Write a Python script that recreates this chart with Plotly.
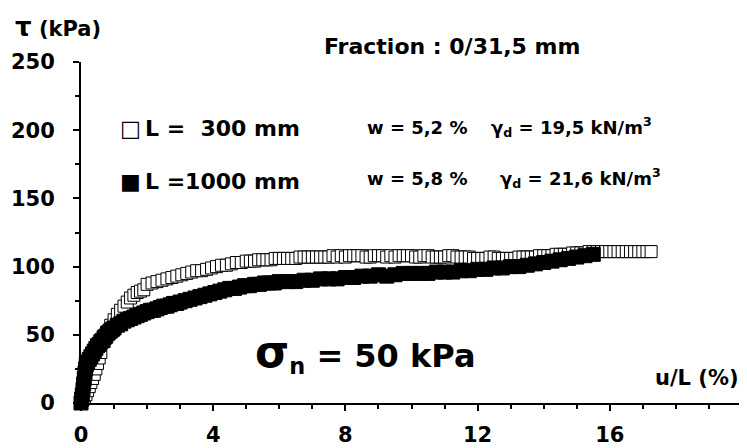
import plotly.graph_objects as go

# ---------------------------------------------------------------
# shear stress tau (kPa) vs relative displacement u/L (%)
# sigma_n = 50 kPa
# ---------------------------------------------------------------

# L = 300 mm (open squares)
x_300 = [0.00, 0.05, 0.10, 0.15, 0.20, 0.25, 0.30, 0.35, 0.40, 0.45,
         0.50, 0.55, 0.60, 0.70, 0.80, 0.90, 1.00, 1.10, 1.20, 1.30,
         1.40, 1.50, 1.60, 1.70, 1.80, 1.90, 2.00, 2.15, 2.30, 2.45,
         2.60, 2.75, 2.90, 3.05, 3.20, 3.35, 3.50, 3.65, 3.80, 3.95,
         4.10, 4.25, 4.40, 4.55, 4.70, 4.85,
         5.000, 5.125, 5.250, 5.375, 5.500, 5.625, 5.750, 5.875,
         6.000, 6.125, 6.250, 6.375, 6.500, 6.625, 6.750, 6.875,
         7.000, 7.125, 7.250, 7.375, 7.500, 7.625, 7.750, 7.875,
         8.000, 8.125, 8.250, 8.375, 8.500, 8.625, 8.750, 8.875,
         9.000, 9.125, 9.250, 9.375, 9.500, 9.625, 9.750, 9.875,
         10.000, 10.125, 10.250, 10.375, 10.500, 10.625, 10.750, 10.875,
         11.000, 11.125, 11.250, 11.375, 11.500, 11.625, 11.750, 11.875,
         12.000, 12.125, 12.250, 12.375, 12.500, 12.625, 12.750, 12.875,
         13.000, 13.125, 13.250, 13.375, 13.500, 13.625, 13.750, 13.875,
         14.000, 14.125, 14.250, 14.375, 14.500, 14.625, 14.750, 14.875,
         15.000, 15.125, 15.250, 15.375, 15.500, 15.625, 15.750, 15.875,
         16.000, 16.125, 16.250, 16.375, 16.500, 16.625, 16.750, 16.875,
         17.000, 17.125, 17.250]
tau_300 = [0, 2, 4, 6, 9, 12, 15, 18, 21, 25,
           29, 33, 37, 45, 52, 57, 61, 65, 68, 71,
           74, 77, 79, 81, 82, 83, 87, 88, 89, 90,
           91, 92, 93, 94, 95, 96, 97, 97, 98, 99,
           100, 101, 101, 102, 103, 103,
           104, 104, 104, 105, 105, 105, 105, 106,
           106, 106, 106, 106, 106, 107, 107, 107,
           107, 107, 107, 107, 107, 108, 107, 108,
           107, 108, 108, 108, 108, 107, 107, 108,
           108, 108, 107, 108, 107, 108, 108, 108,
           108, 107, 107, 108, 108, 107, 107, 107,
           107, 108, 108, 107, 107, 107, 107, 106,
           106, 106, 106, 107, 107, 106, 106, 106,
           106, 106, 107, 107, 107, 107, 107, 108,
           108, 108, 108, 109, 109, 109, 109, 110,
           110, 110, 110, 111, 111, 111, 111, 111,
           111, 111, 111, 111, 111, 111, 111, 111,
           111, 111, 111]

# L = 1000 mm (filled squares)
x_1000 = [0.00, 0.02, 0.04, 0.06, 0.08, 0.10, 0.12, 0.14, 0.16, 0.20,
          0.25, 0.30, 0.35, 0.40, 0.45, 0.50, 0.55, 0.60, 0.65, 0.70,
          0.75, 0.80, 0.85, 0.90, 0.95, 1.00, 1.10, 1.20, 1.30, 1.40,
          1.50, 1.60, 1.70, 1.80, 1.90, 2.00, 2.10, 2.20, 2.30, 2.40,
          2.50, 2.60, 2.70, 2.80, 2.90, 3.00, 3.15, 3.30, 3.45, 3.60,
          3.75, 3.90, 4.05, 4.20, 4.35, 4.50, 4.65, 4.80, 4.95, 5.10,
          5.25, 5.40, 5.55, 5.70, 5.85, 6.00, 6.25, 6.50, 6.75, 7.00,
          7.25, 7.50, 7.75, 8.00, 8.25, 8.50, 8.75, 9.00, 9.25, 9.50,
          9.75, 10.00, 10.25, 10.50, 10.75, 11.00, 11.25, 11.50, 11.75, 12.00,
          12.25, 12.50, 12.75, 13.00, 13.25, 13.50, 13.75, 14.00, 14.25, 14.50,
          14.75, 15.00, 15.25, 15.50]
tau_1000 = [0, 3, 6, 10, 14, 18, 22, 25, 28, 30,
            32, 34, 36, 38, 40, 42, 43, 45, 46, 48,
            49, 51, 52, 53, 54, 55, 57, 58, 60, 61,
            62, 63, 64, 65, 66, 67, 68, 68, 69, 70,
            71, 71, 72, 73, 73, 74, 75, 76, 77, 78,
            79, 80, 81, 82, 83, 84, 84, 85, 86, 86,
            87, 87, 88, 88, 88, 89, 89, 89, 90, 90,
            91, 91, 91, 92, 92, 93, 93, 94, 93, 94,
            95, 95, 95, 95, 96, 96, 96, 97, 97, 98,
            98, 99, 99, 100, 100, 101, 102, 103, 104, 105,
            106, 107, 108, 109]

X_TICKS = [0, 4, 8, 12, 16]
Y_TICKS = [0, 50, 100, 150, 200, 250]

# the page body adds an 8 px margin, so the figure starts at (8, 8)
OFF = 8
W, H = 747 - OFF, 448 - OFF
# plot area, in screenshot pixels
PL, PR, PT, PB = 81, 742, 62, 403
FONT = "DejaVu Sans"


def px(x):
    return (x - PL) / (PR - PL)


def py(y):
    return (PB - y) / (PB - PT)


fig = go.Figure()

# open squares first, the filled series sits on top of them
fig.add_trace(go.Scatter(
    x=x_300, y=tau_300, mode="markers", cliponaxis=False,
    marker=dict(symbol="square", size=12, color="white",
                line=dict(color="black", width=1)),
    showlegend=False,
))
fig.add_trace(go.Scatter(
    x=x_1000, y=tau_1000, mode="markers", cliponaxis=False,
    marker=dict(symbol="square", size=14, color="black",
                line=dict(color="black", width=1)),
    showlegend=False,
))

bold = dict(family=FONT, color="black", weight="bold")


def note(text, x, y, size, anchor="left"):
    fig.add_annotation(text=text, x=px(x), y=py(y), xref="paper", yref="paper",
                       xanchor=anchor, yanchor="middle", showarrow=False,
                       font=dict(bold, size=size))


note('<span style="font-size:26px">τ</span> (kPa)', 58, 27, 21, "center")
note("Fraction : 0/31,5 mm", 452, 46, 22, "center")

note("□", 118, 128, 22)
note("L =\u00a0 300 mm", 143, 128, 22)
note("w = 5,2 %", 365, 127, 18)
note("γ<sub>d</sub> = 19,5 kN/m<sup>3</sup>", 489, 127, 18)

note("■", 118, 181, 22)
note("L =1000 mm", 143, 181, 22)
note("w = 5,8 %", 365, 178, 18)
note("γ<sub>d</sub> = 21,6 kN/m<sup>3</sup>", 498, 178, 18)

note('<span style="font-size:44px">σ</span><sub>n</sub> = 50 kPa', 253, 352, 32)
note("u/L (%)", 741, 378, 21, "right")

fig.update_xaxes(
    range=[0, 20], tickvals=X_TICKS, ticktext=[str(v) for v in X_TICKS],
    showline=True, linecolor="black", linewidth=2, mirror=False,
    ticks="outside", ticklen=6, tickwidth=2, tickcolor="black",
    minor=dict(dtick=1, tick0=0, ticks="outside", ticklen=4, tickwidth=1.5,
               tickcolor="black"),
    tickfont=dict(bold, size=21), ticklabelstandoff=6,
    showgrid=False, zeroline=False, automargin=False,
)
fig.update_yaxes(
    range=[0, 250], tickvals=Y_TICKS, ticktext=[str(v) for v in Y_TICKS],
    showline=True, linecolor="black", linewidth=2,
    ticks="outside", ticklen=6, tickwidth=2, tickcolor="black",
    minor=dict(dtick=25, tick0=0, ticks="outside", ticklen=4, tickwidth=1.5,
               tickcolor="black"),
    tickfont=dict(bold, size=21), ticklabelstandoff=14,
    showgrid=False, zeroline=False, automargin=False,
)

fig.update_layout(
    width=W, height=H,
    margin=dict(l=PL - OFF, r=747 - PR, t=PT - OFF, b=448 - PB),
    paper_bgcolor="white", plot_bgcolor="white",
)

fig.write_html("out.html")
